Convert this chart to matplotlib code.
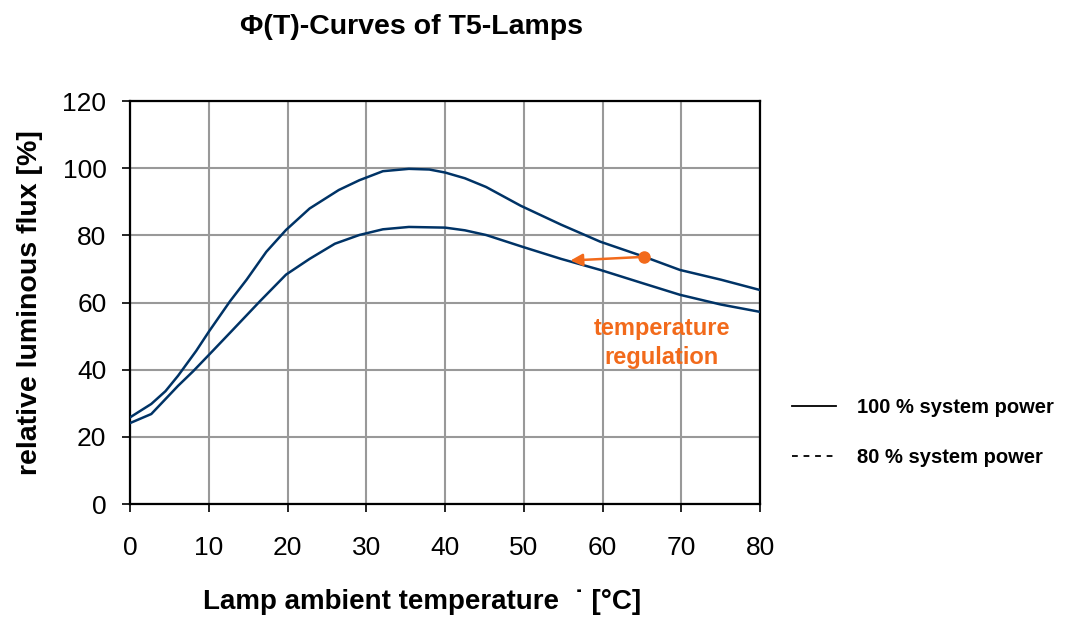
import matplotlib
matplotlib.use("Agg")
import matplotlib.pyplot as plt
from matplotlib.lines import Line2D

plt.rcParams['font.family'] = ['Liberation Sans', 'DejaVu Sans']

# lamp ambient temperature [degC] and relative luminous flux [%]
temp_100 = [0, 2.7, 4.5, 6.1, 8.4, 10, 12.7, 14.8, 17.3, 19.8, 22.8, 26.5, 29.1, 32.1,
            35.4, 38, 40, 42.5, 45.2, 49.6, 54.7, 59.7, 65.3, 69.8, 75, 80]
flux_100 = [25.8, 29.8, 33.6, 38.2, 45.6, 51.3, 60.4, 66.8, 75.1, 81.6, 88.0, 93.5, 96.4, 99.1,
            99.8, 99.6, 98.7, 97.0, 94.4, 88.8, 83.2, 78.1, 73.6, 69.7, 66.8, 63.7]

temp_80 = [0, 2.7, 6.1, 8, 10.5, 12.9, 16.5, 19.8, 22.8, 26, 29.1, 32.1, 35.4, 40,
           42.5, 45.2, 49.8, 54.7, 59.7, 65, 69.8, 75, 80]
flux_80 = [24.1, 26.8, 35.2, 39.5, 45.6, 51.5, 60.4, 68.3, 73.0, 77.5, 80.1, 81.8, 82.5, 82.3,
           81.5, 80.1, 76.6, 73.0, 69.7, 65.8, 62.3, 59.4, 57.2]

series_labels = ['100 % system power', '80 % system power']

# temperature regulation arrow: from 100 % curve to 80 % curve
reg_start = (65.3, 73.6)
reg_end = (55.9, 72.5)

line_color = '#003366'
orange = '#F26A1B'

fig = plt.figure(figsize=(10.79, 6.17), dpi=100)
ax = fig.add_axes([0.1205, 0.1831, 0.5841, 0.6532])

ax.plot(temp_100, flux_100, color=line_color, lw=1.8, zorder=3)
ax.plot(temp_80, flux_80, color=line_color, lw=1.8, zorder=3)

ax.set_xlim(0, 80)
ax.set_ylim(0, 120)
ax.set_xticks(range(0, 81, 10))
ax.set_yticks(range(0, 121, 20))
ax.grid(True, color='#999999', lw=1.5)
ax.set_axisbelow(True)
for s in ax.spines.values():
    s.set_color('black')
    s.set_linewidth(1.6)
ax.tick_params(labelsize=19, length=6, width=1.2, direction='out')
ax.tick_params(axis='x', pad=17)
ax.tick_params(axis='y', pad=11)

# regulation arrow
ax.annotate('', xy=reg_end, xytext=reg_start,
            arrowprops=dict(arrowstyle='-|>', color=orange, lw=1.8,
                            mutation_scale=18, shrinkA=0, shrinkB=0), zorder=4)
ax.plot([reg_start[0]], [reg_start[1]], 'o', color=orange, ms=8, zorder=5)
ax.text(67.5, 48, 'temperature\nregulation', color=orange, fontsize=17,
        fontweight='bold', ha='center', va='center', linespacing=1.3)

fig.text(0.381, 0.957, 'Φ(T)-Curves of T5-Lamps',
         fontsize=20.5, fontweight='bold', ha='center', va='center')
fig.text(0.391, 0.024, 'Lamp ambient temperature  ˙ [°C]', fontsize=20,
         fontweight='bold', ha='center', va='center')
fig.text(0.028, 0.51, 'relative luminous flux [%]', fontsize=20.5,
         fontweight='bold', ha='center', va='center', rotation=90)

handles = [Line2D([], [], color='black', lw=1.3, ls='-'),
           Line2D([], [], color='black', lw=1.3, ls=(0, (3.2, 3.2)))]
fig.legend(handles, series_labels, loc='upper left', bbox_to_anchor=(0.7247, 0.371),
           frameon=False, borderpad=0, handlelength=2.2, handletextpad=1.05,
           labelspacing=1.55, prop={'weight': 'bold', 'size': 14.5})

fig.savefig('out.png', dpi=100)
